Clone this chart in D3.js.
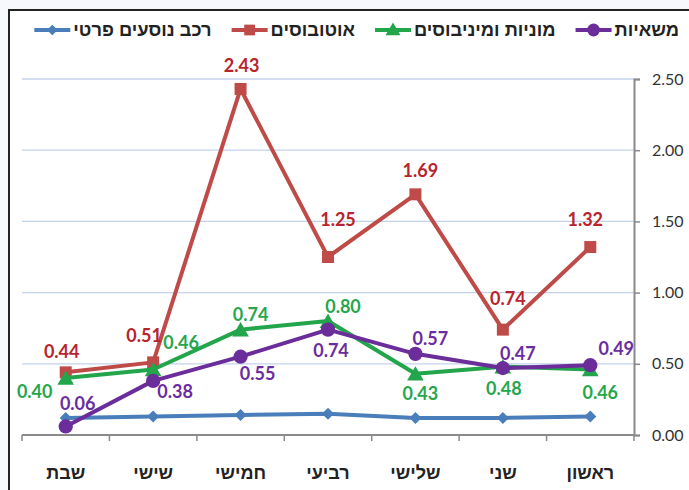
<!DOCTYPE html>
<html>
<head>
<meta charset="utf-8">
<script src="https://cdn.jsdelivr.net/npm/d3@7"></script>
<style>
  html, body { margin: 0; padding: 0; background: #f7f8fc; }
  svg { display: block; }
</style>
</head>
<body>
<svg id="chart" width="689" height="490"></svg>
<script>
// days, ordered Sunday -> Saturday (drawn right to left)
const days = ["ראשון", "שני", "שלישי", "רביעי", "חמישי", "שישי", "שבת"];
const yTicks = [0, 0.5, 1, 1.5, 2, 2.5];

const trucks = [0.49, 0.47, 0.57, 0.74, 0.55, 0.38, 0.06];
const taxis = [0.46, 0.48, 0.43, 0.80, 0.74, 0.46, 0.40];
const buses = [1.32, 0.74, 1.69, 1.25, 2.43, 0.51, 0.44];
const privateCars = [0.13, 0.12, 0.12, 0.15, 0.14, 0.13, 0.12];

// label nudges [dx, dy] from the point
const busLabelPos = [[-5,-21],[5,-25],[5,-17],[10,-31],[1,-17],[-9,-20],[-4,-14]];
const taxiLabelPos = [[10,30],[1,28],[5,26],[15,-8],[10,-9],[28,-20],[-31,20]];
const truckLabelPos = [[26,-10],[15,-8],[15,-9],[3,27],[17,23],[22,17],[12,-16]];

const series = [
  {name: "רכב נוסעים פרטי", values: privateCars, color: "#4a7ebb", label: null, symbol: "diamond"},
  {name: "אוטובוסים", values: buses, color: "#be4b48", labelColor: "#b8242c", label: busLabelPos, symbol: "square"},
  {name: "מוניות ומיניבוסים", values: taxis, color: "#22a54b", labelColor: "#25a74c", label: taxiLabelPos, symbol: "triangle"},
  {name: "משאיות", values: trucks, color: "#6a2d9a", labelColor: "#6a2d9f", label: truckLabelPos, symbol: "circle"}
];

const svg = d3.select("#chart");
const plotLeft = 22, plotRight = 634, plotTop = 79, plotBottom = 435;
const hebFont = "'Liberation Sans', 'DejaVu Sans', sans-serif";
const numFont = "Lato, 'Open Sans', sans-serif";

// frame
svg.append("rect")
  .attr("x", 9).attr("y", 10).attr("width", 700).attr("height", 500)
  .attr("fill", "#fff").attr("stroke", "#222").attr("stroke-width", 2);

const x = d3.scaleBand().domain(days).range([plotRight, plotLeft]);
const y = d3.scaleLinear().domain([0, 2.5]).range([plotBottom, plotTop]);
const cx = d => x(d) + x.bandwidth() / 2;

// gridlines
svg.append("g").selectAll("line")
  .data(yTicks.filter(t => t > 0))
  .join("line")
  .attr("x1", plotLeft).attr("x2", plotRight)
  .attr("y1", d => y(d)).attr("y2", d => y(d))
  .attr("stroke", "#c3d2ec").attr("stroke-width", 1.3);

// y axis on the right
const yAxis = svg.append("g")
  .attr("transform", `translate(${plotRight},0)`)
  .call(d3.axisRight(y).tickValues(yTicks).tickFormat(d3.format(".2f")).tickSize(6).tickPadding(12));
yAxis.select(".domain").attr("stroke", "#8a8a8a").attr("stroke-width", 2);
yAxis.selectAll(".tick line").attr("stroke", "#8a8a8a").attr("stroke-width", 1.5);
yAxis.selectAll("text")
  .attr("font-family", numFont).attr("font-size", 16).attr("fill", "#333");

// x axis line + boundary ticks
svg.append("line")
  .attr("x1", plotLeft).attr("x2", plotRight).attr("y1", plotBottom).attr("y2", plotBottom)
  .attr("stroke", "#8a8a8a").attr("stroke-width", 2);
const edges = days.map(d => x(d)).concat([x(days[0]) + x.step()]);
svg.append("g").selectAll("line")
  .data(edges)
  .join("line")
  .attr("x1", d => d).attr("x2", d => d)
  .attr("y1", plotBottom).attr("y2", plotBottom + 6)
  .attr("stroke", "#8a8a8a").attr("stroke-width", 1.5);

svg.append("g").selectAll("text")
  .data(days)
  .join("text")
  .attr("x", d => cx(d)).attr("y", 479)
  .attr("text-anchor", "middle")
  .attr("font-family", hebFont).attr("font-size", 18).attr("font-weight", "bold")
  .attr("fill", "#222")
  .text(d => d);

function symbolPath(kind, scale) {
  const types = {circle: d3.symbolCircle, square: d3.symbolSquare, triangle: d3.symbolTriangle, diamond: d3.symbolSquare};
  const sizes = {circle: 160, square: 144, triangle: 120, diamond: 72};
  return d3.symbol().type(types[kind]).size(sizes[kind] * scale)();
}

const line = d3.line().x((v, i) => cx(days[i])).y(v => y(v));

series.forEach(s => {
  const g = svg.append("g");
  g.append("path")
    .attr("d", line(s.values))
    .attr("fill", "none").attr("stroke", s.color).attr("stroke-width", 4)
    .attr("stroke-linejoin", "round");
  g.selectAll("path.m")
    .data(s.values)
    .join("path")
    .attr("class", "m")
    .attr("d", symbolPath(s.symbol, 1))
    .attr("transform", (v, i) => `translate(${cx(days[i])},${y(v) + (s.symbol === "triangle" ? 2 : 0)})` + (s.symbol === "diamond" ? " rotate(45)" : ""))
    .attr("fill", s.color);
});

// data labels drawn above all lines
series.forEach(s => {
  if (!s.label) return;
  svg.append("g").selectAll("text")
    .data(s.values)
    .join("text")
    .attr("x", (v, i) => cx(days[i]) + s.label[i][0])
    .attr("y", (v, i) => y(v) + s.label[i][1])
    .attr("text-anchor", "middle")
    .attr("font-family", numFont).attr("font-size", 18).attr("font-weight", "bold")
    .attr("fill", s.labelColor)
    .text(v => v.toFixed(2));
});

// legend, laid out right to left
const legend = svg.append("g");
let lx = 679;
series.slice().reverse().forEach(s => {
  const t = legend.append("text")
    .attr("x", lx).attr("y", 36)
    .attr("text-anchor", "end")
    .attr("font-family", hebFont).attr("font-size", 18.3).attr("font-weight", "bold")
    .attr("fill", "#222")
    .text(s.name);
  const w = t.node().getComputedTextLength();
  const lineEnd = lx - w - 3;
  legend.append("line")
    .attr("x1", lineEnd - 36).attr("x2", lineEnd).attr("y1", 30).attr("y2", 30)
    .attr("stroke", s.color).attr("stroke-width", 4);
  legend.append("path")
    .attr("d", symbolPath(s.symbol, 0.8))
    .attr("transform", `translate(${lineEnd - 18},${30 + (s.symbol === "triangle" ? 1 : 0)})` + (s.symbol === "diamond" ? " rotate(45)" : ""))
    .attr("fill", s.color);
  lx = lineEnd - 36 - 20;
});
</script>
</body>
</html>
